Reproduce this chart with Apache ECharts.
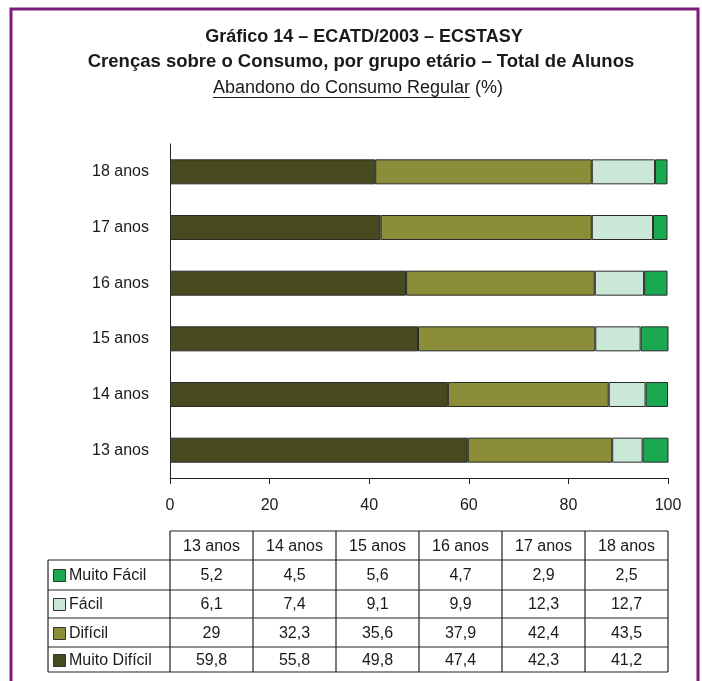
<!DOCTYPE html>
<html>
<head>
<meta charset="UTF-8">
<title>Gráfico 14 – ECATD/2003 – ECSTASY</title>
<script src="https://cdn.jsdelivr.net/npm/echarts@6/dist/echarts.min.js"></script>
<style>
  html, body { margin: 0; padding: 0; background: #fff; }
  #main { width: 702px; height: 681px; }
</style>
</head>
<body>
<div id="main"></div>
<script>
// dados (%)
var ages = ['13 anos', '14 anos', '15 anos', '16 anos', '17 anos', '18 anos'];
var muitoDificil = [59.8, 55.8, 49.8, 47.4, 42.3, 41.2];
var dificil = [29, 32.3, 35.6, 37.9, 42.4, 43.5];
var facil = [6.1, 7.4, 9.1, 9.9, 12.3, 12.7];
var muitoFacil = [5.2, 4.5, 5.6, 4.7, 2.9, 2.5];
var seriesNames = ['Muito Difícil', 'Difícil', 'Fácil', 'Muito Fácil'];
var seriesColors = ['#464a1e', '#8b8d38', '#cbe7d8', '#1aa851'];

var chart = echarts.init(document.getElementById('main'));
var FONT = '"Liberation Sans", Arial, Helvetica, sans-serif';

function fmt(v) { return String(v).replace('.', ','); }

// medir texto para o sublinhado
var ctx = document.createElement('canvas').getContext('2d');
function textWidth(txt, font) { ctx.font = font; return ctx.measureText(txt).width; }

var graphics = [];
// moldura roxa
graphics.push({ type: 'polyline', shape: { points: [[11, 681], [11, 9], [698, 9], [698, 681]] },
  style: { stroke: '#7b1a7a', lineWidth: 3, fill: null }, silent: true });

// títulos
var cx = 358;
graphics.push({ type: 'text', x: 364, y: 37, style: { text: 'Gráfico 14 – ECATD/2003 – ECSTASY',
  font: 'bold 18px ' + FONT, fill: '#1a1a1a', align: 'center', verticalAlign: 'middle' } });
graphics.push({ type: 'text', x: 361, y: 62, style: { text: 'Crenças sobre o Consumo, por grupo etário – Total de Alunos',
  font: 'bold 18.5px ' + FONT, fill: '#1a1a1a', align: 'center', verticalAlign: 'middle' } });
var sub1 = 'Abandono do Consumo Regular', sub2 = ' (%)';
var subFont = '18px ' + FONT;
var w1 = textWidth(sub1, subFont), w2 = textWidth(sub2, subFont);
var sx = cx - (w1 + w2) / 2;
graphics.push({ type: 'text', x: sx, y: 88, style: { text: sub1 + sub2, font: subFont, fill: '#1a1a1a',
  align: 'left', verticalAlign: 'middle' } });
graphics.push({ type: 'line', shape: { x1: sx, y1: 97.5, x2: sx + w1, y2: 97.5 }, style: { stroke: '#1a1a1a', lineWidth: 1 } });

// tabela
var colX = [170, 253, 336, 419, 502, 585, 668];
var tableLeft = 48;
var rowY = [531, 560, 590, 618, 647, 672];
var lineStyle = { stroke: '#222', lineWidth: 1.2 };
graphics.push({ type: 'line', shape: { x1: colX[0], y1: rowY[0], x2: colX[6], y2: rowY[0] }, style: lineStyle });
for (var r = 1; r < rowY.length; r++) {
  graphics.push({ type: 'line', shape: { x1: tableLeft, y1: rowY[r], x2: colX[6], y2: rowY[r] }, style: lineStyle });
}
for (var c = 0; c < colX.length; c++) {
  graphics.push({ type: 'line', shape: { x1: colX[c], y1: rowY[0], x2: colX[c], y2: rowY[5] }, style: lineStyle });
}
graphics.push({ type: 'line', shape: { x1: tableLeft, y1: rowY[1], x2: tableLeft, y2: rowY[5] }, style: lineStyle });

var cellFont = '16px ' + FONT;
ages.forEach(function (a, i) {
  graphics.push({ type: 'text', x: (colX[i] + colX[i + 1]) / 2, y: (rowY[0] + rowY[1]) / 2 + 1,
    style: { text: a, font: cellFont, fill: '#1a1a1a', align: 'center', verticalAlign: 'middle' } });
});
var tableRows = [
  { name: 'Muito Fácil', color: seriesColors[3], values: muitoFacil },
  { name: 'Fácil', color: seriesColors[2], values: facil },
  { name: 'Difícil', color: seriesColors[1], values: dificil },
  { name: 'Muito Difícil', color: seriesColors[0], values: muitoDificil }
];
tableRows.forEach(function (row, r) {
  var yc = (rowY[r + 1] + rowY[r + 2]) / 2 + 1;
  graphics.push({ type: 'rect', shape: { x: 53.5, y: Math.round(yc - 7) + 0.5, width: 12, height: 12 },
    style: { fill: row.color, stroke: '#333', lineWidth: 1 } });
  graphics.push({ type: 'text', x: 69, y: yc, style: { text: row.name, font: cellFont, fill: '#1a1a1a',
    align: 'left', verticalAlign: 'middle' } });
  row.values.forEach(function (v, i) {
    graphics.push({ type: 'text', x: (colX[i] + colX[i + 1]) / 2, y: yc,
      style: { text: fmt(v), font: cellFont, fill: '#1a1a1a', align: 'center', verticalAlign: 'middle' } });
  });
});

var seriesData = [muitoDificil, dificil, facil, muitoFacil];
var option = {
  backgroundColor: '#fff',
  animation: false,
  grid: { left: 170, right: 34, top: 144, bottom: 203, containLabel: false },
  xAxis: {
    type: 'value', min: 0, max: 100, interval: 20,
    axisLine: { show: true, lineStyle: { color: '#222', width: 1 } },
    axisTick: { show: true, inside: false, length: 6, lineStyle: { color: '#222' } },
    axisLabel: { fontFamily: FONT, fontSize: 16, color: '#1a1a1a', margin: 20 },
    splitLine: { show: false }
  },
  yAxis: {
    type: 'category', data: ages,
    axisLine: { show: true, lineStyle: { color: '#222', width: 1 } },
    axisTick: { show: false },
    axisLabel: { fontFamily: FONT, fontSize: 16, color: '#1a1a1a', margin: 21 }
  },
  series: seriesNames.map(function (name, k) {
    return {
      name: name, type: 'bar', stack: 'total', barWidth: 25,
      data: seriesData[k],
      itemStyle: { color: seriesColors[k], borderColor: '#2a2a2a', borderWidth: 1 }
    };
  }),
  graphic: graphics
};
chart.setOption(option);
</script>
</body>
</html>
